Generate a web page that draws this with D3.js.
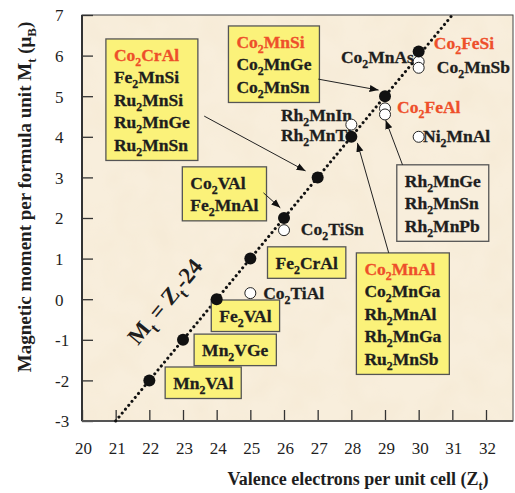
<!DOCTYPE html>
<meta charset="utf-8">
<style>
html, body { margin: 0; padding: 0; background: #fff; }
svg text { font-family: "Liberation Serif", "Times New Roman", serif; fill: #1e1e1e; }
</style>
<div id="chart"></div>
<script src="https://cdn.jsdelivr.net/npm/d3@7"></script>
<script>

// Slater-Pauling data: Zt (valence electrons) vs Mt (moment)
var ztFilled = [22, 23, 24, 25, 26, 27, 28, 29, 30];
var mtFilled = [-2, -1, 0, 1, 2, 3, 4, 5, 6.1];
var ztOpen = [25, 26, 28, 29, 29, 30, 30, 30];
var mtOpen = [0.15, 1.7, 4.3, 4.7, 4.55, 5.85, 5.7, 4.0];

var xTicks = [20, 21, 22, 23, 24, 25, 26, 27, 28, 29, 30, 31, 32];
var yTicks = [-3, -2, -1, 0, 1, 2, 3, 4, 5, 6, 7];

// labelled boxes: top-left corner in data units
var boxNames = [
  ["Co2CrAl", "Fe2MnSi", "Ru2MnSi", "Ru2MnGe", "Ru2MnSn"],
  ["Co2MnSi", "Co2MnGe", "Co2MnSn"],
  ["Co2VAl", "Fe2MnAl"],
  ["Fe2CrAl"],
  ["Fe2VAl"],
  ["Mn2VGe"],
  ["Mn2VAl"],
  ["Co2MnAl", "Co2MnGa", "Rh2MnAl", "Rh2MnGa", "Ru2MnSb"],
  ["Rh2MnGe", "Rh2MnSn", "Rh2MnPb"]
];
var boxAt = [[20.71, 6.41], [24.35, 6.73], [22.98, 3.26], [25.51, 1.29], [23.84, -0.02],
             [23.33, -0.86], [22.47, -1.67], [28.15, 1.14], [29.35, 3.31]];
var boxRed = [true, true, false, false, false, false, false, true, false];
var boxYellow = [true, true, true, true, true, true, true, true, false];

// free labels next to points (text start, baseline)
var freeNames = ["Co2MnAs", "Co2FeSi", "Co2MnSb", "Co2FeAl", "Rh2MnIn", "Rh2MnTi", "Ni2MnAl", "Co2TiSn", "Co2TiAl"];
var freeAt = [[27.69, 5.82], [30.45, 6.16], [30.54, 5.57], [29.36, 4.59], [25.91, 4.39], [25.91, 3.90], [30.13, 3.87], [26.50, 1.58], [25.38, 0.0]];
var freeRed = [false, true, false, true, false, false, false, false, false];

// arrows [x1, y1, x2, y2] in data units
var arrows = [
  [23.63, 4.51, 26.64, 3.16],
  [27.02, 5.42, 28.81, 5.15],
  [25.39, 2.62, 25.89, 2.25],
  [29.52, 3.31, 29.02, 4.41],
  [29.11, 1.14, 28.18, 3.85]
];

var W = 515, H = 493;
var pL = 82, pR = 513, pT = 15, pB = 421;

var x = d3.scaleLinear().domain([20, 32]).range([pL, 486]);
var y = d3.scaleLinear().domain([-3, 7]).range([pB, pT]);

var svg = d3.select("#chart").append("svg").attr("width", W).attr("height", H);
var defs = svg.append("defs");

defs.append("marker")
    .attr("id", "arr")
    .attr("viewBox", "0 0 10 10")
    .attr("refX", 10).attr("refY", 5)
    .attr("markerWidth", 9).attr("markerHeight", 9)
    .attr("markerUnits", "userSpaceOnUse")
    .attr("orient", "auto")
  .append("path").attr("d", "M0,1L10,5L0,9z").attr("fill", "#111");

// mottled paper texture
var tex = defs.append("filter").attr("id", "paper")
    .attr("x", 0).attr("y", 0).attr("width", 1).attr("height", 1);
tex.append("feTurbulence").attr("type", "fractalNoise")
    .attr("baseFrequency", 0.035).attr("numOctaves", 2).attr("seed", 3);
tex.append("feColorMatrix").attr("type", "matrix")
    .attr("values", "0 0 0 0 0.85  0 0 0 0 0.72  0 0 0 0 0.52  0 0 0 0.35 -0.12");
tex.append("feComposite").attr("in2", "SourceGraphic").attr("operator", "in");

// plot background
svg.append("rect")
    .attr("x", pL).attr("y", pT)
    .attr("width", pR - pL).attr("height", pB - pT)
    .attr("fill", "#f8eedc");
svg.append("rect")
    .attr("x", pL).attr("y", pT)
    .attr("width", pR - pL).attr("height", pB - pT)
    .attr("fill", "#000").attr("filter", "url(#paper)");
svg.append("rect")
    .attr("x", pL).attr("y", pT)
    .attr("width", pR - pL).attr("height", pB - pT)
    .attr("fill", "none").attr("stroke", "#444").attr("stroke-width", 1);

// text with digit subscripts
function rich(t, parts, fs) {
  var shift = 0;
  parts.forEach(function(p) {
    var dy = p[1] ? fs * 0.28 : 0;
    t.append("tspan").text(p[0])
      .attr("dy", dy - shift)
      .style("font-size", p[1] ? (fs * 0.68) + "px" : null);
    shift = dy;
  });
}
function formula(s) {
  return s.match(/\d+|\D+/g).map(function(c) { return [c, /\d/.test(c)]; });
}

// axes
var xAxis = svg.append("g").attr("transform", "translate(0," + pB + ")")
    .call(d3.axisBottom(x).tickValues(xTicks).tickSize(-11).tickPadding(21).tickFormat(function(d) { return String(d); }));
var yAxis = svg.append("g").attr("transform", "translate(" + pL + ",0)")
    .call(d3.axisLeft(y).tickValues(yTicks).tickSize(-11).tickFormat(function(d) { return String(d); }));
[xAxis, yAxis].forEach(function(a) {
  a.select(".domain").remove();
  a.selectAll(".tick line").attr("stroke", "#333").attr("stroke-width", 1.3);
  a.selectAll(".tick text").style("font-size", "17px").attr("fill", "#1e1e1e")
    .style("font-family", "'Liberation Serif', serif");
});
xAxis.selectAll(".tick text").attr("dx", "1");
yAxis.selectAll(".tick text").attr("text-anchor", "start").attr("x", 55 - pL).attr("dy", "0.35em");

// heavier left & bottom axis lines
svg.append("line").attr("x1", pL).attr("x2", pL).attr("y1", pT).attr("y2", pB)
    .attr("stroke", "#333").attr("stroke-width", 2);
svg.append("line").attr("x1", pL).attr("x2", pR).attr("y1", pB).attr("y2", pB)
    .attr("stroke", "#555").attr("stroke-width", 2);

// Mt = Zt - 24 dotted line
svg.append("line")
    .attr("x1", x(21)).attr("y1", y(-3)).attr("x2", x(31)).attr("y2", y(7))
    .attr("stroke", "#111").attr("stroke-width", 3)
    .attr("stroke-linecap", "round").attr("stroke-dasharray", "0.1,5");

var ang = Math.atan2(y(7) - y(-3), x(31) - x(21)) * 180 / Math.PI;
var lbl = svg.append("text")
    .attr("transform", "translate(" + x(22.64) + "," + y(-0.18) + ") rotate(" + ang + ")")
    .attr("text-anchor", "middle")
    .style("font-size", "23px").style("font-weight", "bold");
rich(lbl, [["M", false], ["t", true], [" = Z", false], ["t", true], ["-24", false]], 23);

// boxes
var LH = 22.5, FS = 17.5;
boxNames.forEach(function(names, i) {
  var g = svg.append("g");
  var bx = x(boxAt[i][0]), by = y(boxAt[i][1]);
  var rect = g.append("rect");
  var maxW = 0;
  names.forEach(function(n, j) {
    var col = (j === 0 && boxRed[i]) ? "#ee4f2a" : "#1e1e1e";
    var t = g.append("text")
        .attr("x", bx + 8).attr("y", by + 22 + j * LH)
        .style("font-size", FS + "px").style("font-weight", "bold");
    rich(t, formula(n), FS);
    t.selectAll("tspan").attr("fill", col).attr("stroke", col).attr("stroke-width", 0.3);
    maxW = Math.max(maxW, t.node().getComputedTextLength());
  });
  rect.attr("x", bx).attr("y", by)
      .attr("width", maxW + 16).attr("height", names.length * LH + 9)
      .attr("fill", boxYellow[i] ? "#fbf27a" : "#f8eedc")
      .attr("stroke", "#555").attr("stroke-width", 1.3);
});

// free labels
freeNames.forEach(function(n, i) {
  var col = freeRed[i] ? "#ee4f2a" : "#1e1e1e";
  var t = svg.append("text")
      .attr("x", x(freeAt[i][0])).attr("y", y(freeAt[i][1]))
      .style("font-size", FS + "px").style("font-weight", "bold");
  rich(t, formula(n), FS);
  t.selectAll("tspan").attr("fill", col).attr("stroke", col).attr("stroke-width", 0.3);
});

// arrows
svg.selectAll(".arrow").data(arrows).enter().append("line")
    .attr("class", "arrow")
    .attr("x1", function(d) { return x(d[0]); }).attr("y1", function(d) { return y(d[1]); })
    .attr("x2", function(d) { return x(d[2]); }).attr("y2", function(d) { return y(d[3]); })
    .attr("stroke", "#222").attr("stroke-width", 1)
    .attr("marker-end", "url(#arr)");

// points
svg.selectAll(".open").data(d3.range(ztOpen.length)).enter().append("circle")
    .attr("class", "open")
    .attr("cx", function(i) { return x(ztOpen[i]); })
    .attr("cy", function(i) { return y(mtOpen[i]); })
    .attr("r", 5.5).attr("fill", "#fff").attr("stroke", "#222").attr("stroke-width", 1);

svg.selectAll(".filled").data(d3.range(ztFilled.length)).enter().append("circle")
    .attr("class", "filled")
    .attr("cx", function(i) { return x(ztFilled[i]); })
    .attr("cy", function(i) { return y(mtFilled[i]); })
    .attr("r", 6).attr("fill", "#111");

// axis titles
var xt = svg.append("text").attr("x", 358).attr("y", 485).attr("text-anchor", "middle")
    .style("font-size", "18px").style("font-weight", "bold");
rich(xt, [["Valence electrons per unit cell (Z", false], ["t", true], [")", false]], 18);

var yt = svg.append("text").attr("transform", "translate(31,197) rotate(-90)")
    .attr("text-anchor", "middle")
    .style("font-size", "19px").style("font-weight", "bold");
rich(yt, [["Magnetic moment per formula unit  M", false], ["t", true], ["  (\u03bc", false], ["B", true], [")", false]], 19);

</script>
